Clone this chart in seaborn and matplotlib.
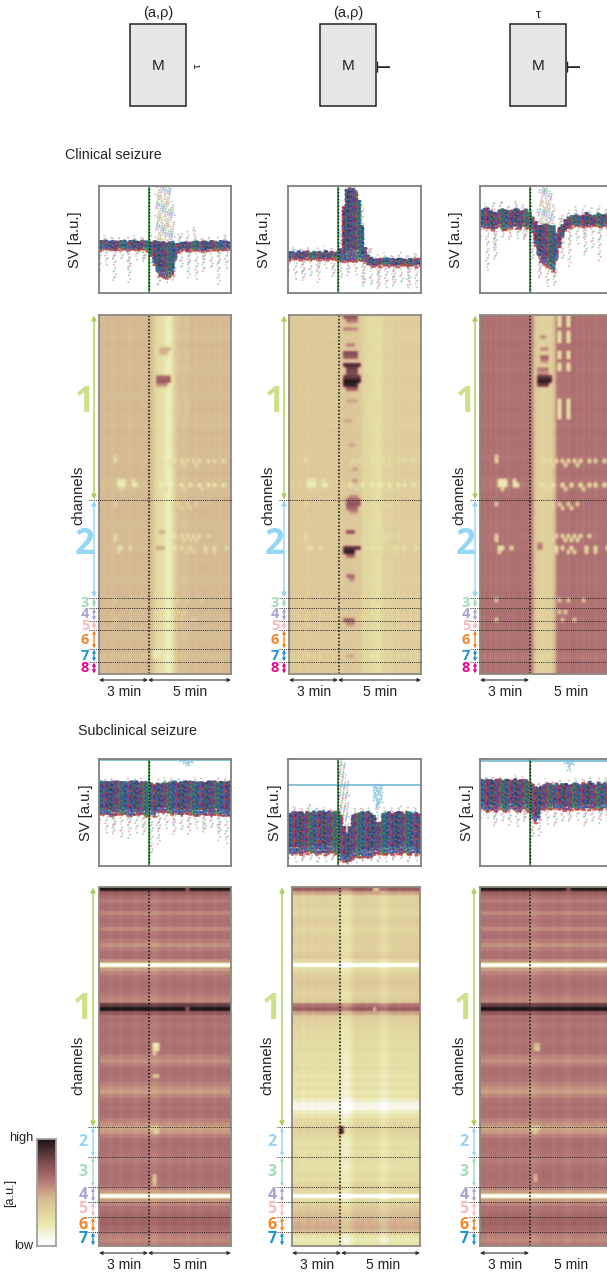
import numpy as np, pandas as pd
import matplotlib
matplotlib.use("Agg")
import matplotlib.pyplot as plt
from matplotlib.colors import LinearSegmentedColormap
from matplotlib.patches import Rectangle
import seaborn as sns

sns.set_theme(style="white")
plt.rcParams['font.family'] = ['Liberation Sans', 'DejaVu Sans']

W, H = 607, 1275
fig = plt.figure(figsize=(W/100, H/100), dpi=100)

# ---------- data ----------
cmap_nodes = [0, .08, .20, .33, .43, .52, .62, .72, .82, .92, 1]
cmap_colors = ['#ffffff', '#f7f7ea', '#e9e8ae', '#dfd09c', '#d6bc94', '#ca9e84', '#b27575',
               '#96595c', '#6e4448', '#3f2a2c', '#1e1414']
signal_colors = ['#2b4a9c', '#22877c', '#7b3a8c', '#c23b30', '#3a8a4c', '#27305a', '#3b62b0', '#8a3a6a']
tail_colors = ['#8fc9a0', '#d6a0c8', '#e8a0a0', '#a0b8dc', '#b8d8a0']

# seizure time profile, 44 time bins over 8 minutes
T1_time = [.44,.43,.44,.44,.42,.44,.44,.43,.44,.44,.42,.44,.44,.44,.43,.44,.44,.44,.33,.28,.26,.24,
           .18,.16,.24,.36,.42,.41,.40,.42,.43,.44,.42,.44,.43,.44,.42,.44,.43,.44,.42,.44,.43,.44]
T2_time = [.37,.36,.37,.35,.37,.36,.35,.37,.36,.37,.35,.37,.36,.37,.36,.37,.37,.37,.37,.38,.38,.37,
           .37,.37,.33,.29,.31,.27,.27,.24,.27,.31,.33,.31,.33,.35,.32,.35,.33,.35,.33,.35,.33,.35]
T3_time = [.64,.62,.64,.62,.64,.61,.64,.62,.64,.61,.64,.62,.64,.63,.62,.64,.62,.58,.36,.34,.32,.32,
           .34,.32,.38,.58,.64,.62,.63,.62,.64,.64,.62,.64,.61,.64,.62,.64,.61,.64,.62,.64,.62,.64]
L1_time = [.01,.00,.01,-.01,.00,.01,.00,-.01,.01,.00,.01,.00,-.01,.00,.01,.00,.00,-.02,-.03,-.02,.00,.01,
           .00,-.01,.00,.01,.00,.00,.01,-.02,.00,.01,.00,-.01,.00,.01,.00,.01,-.01,.00,.01,.00,.01,.00]
L2_time = [.01,.00,.02,-.01,.00,.02,.01,-.01,.02,.00,.01,.02,.00,.01,.00,.01,-.02,-.08,-.10,-.09,-.05,.00,
           .02,.01,.02,.00,.01,.02,.00,.01,-.04,-.06,-.05,.00,.01,.02,.00,.01,.02,.00,.01,.00,.02,.01]
L3_time = [.00,.01,-.01,.01,.00,.01,-.01,.00,.01,.00,-.01,.01,.00,.00,.01,.00,-.01,-.03,-.02,-.01,.00,.01,
           .00,.01,-.01,.00,.01,.00,-.01,-.02,.00,.01,.00,.01,.00,-.01,.01,.00,.01,.00,-.01,.00,.01,.00]

# channel profiles, 90 channel bins
top_channel = [.00,.00,.01,.00,.00,-.01,.00,.01,.00,.00, .01,.00,.00,-.01,.00,.00,.01,.00,.00,.00,
               -.01,.00,.00,.01,.00,.00,.00,-.01,.00,.01, .00,.00,.01,.00,.00,-.01,.00,.00,.00,.01,
               .00,-.01,-.02,-.01,.00,.00,.01,.00,.00,.01, .00,.00,-.01,.00,.00,-.01,.00,.00,-.01,.00,
               .01,.00,.00,.01,.00,.00,-.01,.00,.00,.01, .00,.00,-.01,.00,.01,.00,.00,.01,.00,.00,
               -.01,.00,.00,.01,.00,-.02,-.01,.00,.00,.00]
low_channel = [.98,.70,.64,.60,.64,.63,.57,.62,.64,.62, .57,.63,.64,.60,.55,.60,.63,.64,.55,.00,
               .52,.58,.62,.63,.64,.63,.62,.59,.57,.84, .99,.72,.63,.64,.62,.63,.64,.63,.62,.63,
               .64,.62,.58,.55,.60,.63,.64,.63,.62,.59, .55,.52,.58,.62,.64,.63,.64,.63,.59,.55,
               .50,.53,.59,.63,.64,.64,.63,.62,.60,.62, .63,.64,.64,.64,.63,.59,.52,.00,.52,.58,
               .63,.64,.66,.68,.68,.66,.63,.59,.57,.60]
low2_channel = [.70,.50,.32,.31,.32,.31,.29,.32,.34,.32, .29,.31,.32,.34,.32,.31,.34,.36,.27,.00,
                .26,.31,.34,.36,.36,.34,.32,.32,.36,.62, .70,.50,.34,.32,.31,.29,.27,.29,.27,.26,
                .27,.26,.24,.26,.24,.26,.24,.22,.24,.22, .24,.20,.22,.16,.08,.07,.16,.22,.26,.29,
                .32,.31,.29,.26,.24,.26,.24,.26,.26,.24, .24,.26,.27,.26,.29,.32,.28,.00,.26,.32,
                .36,.40,.42,.44,.46,.48,.40,.22,.18,.22]

# isolated cells: (channel bin, time bins, value)
top_specks = [(35,[5],.30),(36,[5,21,23,25,27,29,31,33,36,38,41],.24),(37,[20,24,28,32],.30),
              (41,[6,7,8,11],.20),(42,[6,7,8,11,12,20,24,27,30,33,36,38,41],.16),(43,[7,22,28,34],.30),
              (47,[5,24,26,29,32],.30),(48,[24,27,30],.30),(55,[5,25,27,29,31,33,36],.26),
              (56,[5,24,28,30,32],.26),(58,[6,7,10,25,27,30,35,38,42],.22),(59,[6,25,29,31,35,38],.30),
              (71,[5,26,29,34],.32),(74,[26,28],.32),(76,[5,27,31],.32)]
streak_rows = [0, 1, 2, 4, 5, 6, 9, 10, 12, 13, 21, 22, 23, 24, 25]
streak_cols = [26, 29]
streak_value = {'T1': .37, 'T2': .27, 'T3': .18}
T1_events = [(8,[20,21,22,23],.48),(9,[20,21,22],.46),(15,[19,20,21,22,23],.66),(16,[19,20,21,22,23],.72),
             (17,[19,20,21,22],.56),(85,[18,19],.16),(84,[18,19,20],.18),(54,[20,21],.50),(58,[19,20,21],.50)]
T2_events = [(0,[18,19,20,21,22],.72),(1,[19,20,21,22],.62),(3,[18,19,20,21,22],.58),(7,[19,20,21],.60),
             (9,[18,19,20,21,22],.78),(10,[18,19,20,21,22],.72),(12,[18,19,20,21,22,23],.92),
             (13,[19,20,21,22],.82),(14,[19,20,21,22],.78),(15,[18,19,20,21,22,23],.84),
             (16,[18,19,20,21,22,23],.98),(17,[18,19,20,21,22],.94),(18,[19,20,21,22],.70),
             (21,[19,20,21,22],.50),(26,[18,19,20],.50),(32,[20,21],.50),(38,[21,22],.52),(41,[21,22],.54),
             (45,[20,21,22],.56),(46,[19,20,21,22,23],.68),(47,[19,20,21,22,23],.74),(48,[19,20,21,22],.68),
             (49,[20,21,22],.56),(54,[19,20,21],.76),(58,[18,19,20,21,22,23],.88),(59,[18,19,20,21],.96),
             (60,[19,20,21],.66),(65,[19,20,21],.66),(66,[20,21],.56),(76,[18,19,20,21],.68),
             (77,[19,20,21],.56),(85,[19,20,21],.50)]
T3_events = [(5,[20,21],.58),(13,[19,20,21,22],.62),(14,[19,20,21,22],.54),(15,[19,20,21,22,23],.86),
             (16,[19,20,21,22,23],.96),(17,[19,20,21,22],.84),(8,[20,21,22],.58),(10,[20,21,22],.68),
             (11,[20,21,22],.58),(57,[19,20],.58),(58,[19,20],.62)]
L1_events = [(39,[18,19],.16),(40,[18,19],.20),(41,[18],.32),(47,[18,19],.40),(60,[17,18,19],.34),
             (61,[18,19],.34),(72,[18],.36),(73,[18],.30),(74,[18],.38),(0,[29],.66),(30,[29],.68)]
L2_events = [(60,[16,17],.86),(61,[16,17],.94),(62,[16],.58),(0,[28,29],.40),(30,[28],.42)]
L3_events = [(39,[18,19],.44),(40,[18,19],.40),(60,[17,18,19],.30),(61,[18],.34),(72,[18],.44),(73,[18],.40),(0,[29],.68)]

# signal value clouds: dense band limits and sparse limits per time bin
T1_hi  = [.48,.48,.48,.47,.48,.48,.47,.48,.48,.47,.48,.48,.48,.47,.48,.48,.48,.47,.48,.47,.47,.47,
          .46,.47,.47,.45,.45,.46,.47,.47,.46,.47,.48,.47,.47,.48,.47,.48,.47,.47,.48,.48,.48,.47]
T1_lo  = [.39,.40,.40,.40,.40,.39,.40,.40,.40,.39,.40,.40,.40,.39,.40,.40,.38,.34,.26,.19,.15,.14,
          .13,.14,.17,.30,.37,.39,.40,.38,.39,.39,.39,.39,.38,.39,.39,.40,.39,.39,.40,.39,.40,.40]
T1_tlo = [.18,.24,.25,.14,.30,.10,.22,.30,.12,.24,.10,.20,.30,.16,.30,.28,.30,.26,.10,.08,.08,.07,
          .09,.06,.10,.16,.10,.22,.12,.14,.28,.20,.12,.10,.18,.30,.12,.22,.16,.08,.28,.10,.22,.30]
T1_thi = [.50,.50,.50,.50,.50,.50,.50,.50,.50,.50,.50,.50,.50,.50,.50,.50,.50,.52,.70,.96,.99,.99,
          .99,.98,.80,.55,.53,.55,.50,.55,.50,.60,.50,.52,.50,.55,.50,.50,.52,.50,.50,.52,.50,.52]

T2_hi  = [.38,.38,.37,.38,.37,.38,.38,.37,.38,.37,.38,.37,.38,.37,.38,.37,.38,.40,.80,.96,.97,.97,
          .94,.86,.62,.42,.34,.32,.31,.31,.31,.31,.32,.31,.31,.31,.31,.31,.31,.30,.31,.31,.31,.31]
T2_lo  = [.30,.31,.31,.31,.30,.31,.31,.30,.31,.31,.30,.31,.31,.30,.31,.31,.30,.29,.29,.29,.29,.29,
          .29,.30,.30,.28,.26,.25,.24,.25,.24,.25,.25,.24,.25,.25,.24,.25,.25,.24,.25,.25,.24,.25]
T2_tlo = [.18,.20,.12,.24,.16,.10,.22,.14,.08,.20,.10,.12,.22,.10,.20,.14,.10,.12,.14,.16,.20,.20,
          .16,.12,.08,.05,.04,.06,.05,.04,.06,.08,.04,.06,.10,.05,.06,.08,.05,.07,.05,.06,.04,.08]
T2_thi = [.40,.40,.40,.42,.40,.40,.42,.40,.40,.40,.42,.40,.40,.42,.40,.40,.42,.60,.96,.99,.99,.99,
          .98,.96,.80,.60,.42,.40,.36,.34,.38,.34,.36,.34,.35,.34,.34,.36,.34,.34,.35,.34,.36,.34]

T3_hi  = [.77,.78,.78,.76,.75,.74,.77,.78,.77,.76,.76,.77,.78,.76,.76,.77,.74,.70,.66,.62,.62,.63,
          .63,.62,.62,.55,.60,.63,.68,.70,.71,.72,.72,.71,.72,.74,.72,.71,.72,.74,.72,.72,.72,.72]
T3_lo  = [.62,.60,.60,.60,.58,.60,.62,.58,.58,.60,.60,.62,.60,.59,.62,.60,.60,.56,.44,.34,.28,.26,
          .24,.22,.20,.30,.42,.52,.58,.60,.61,.62,.62,.62,.61,.62,.62,.62,.62,.62,.61,.62,.62,.62]
T3_tlo = [.50,.48,.20,.50,.40,.30,.52,.50,.48,.52,.50,.48,.50,.52,.48,.50,.48,.30,.24,.14,.16,.14,
          .05,.02,.05,.14,.30,.30,.40,.25,.50,.32,.45,.30,.50,.34,.50,.40,.50,.30,.50,.45,.50,.50]
T3_thi = [.80,.80,.80,.82,.84,.80,.82,.86,.84,.82,.80,.84,.80,.80,.82,.80,.80,.76,.74,.78,.98,.98,
          .98,.92,.80,.70,.68,.72,.74,.76,.74,.78,.74,.76,.78,.80,.76,.74,.78,.80,.74,.76,.75,.76]

L1_hi  = [.78,.78,.78,.78,.78,.78,.78,.78,.78,.77,.78,.78,.78,.77,.78,.78,.77,.76,.75,.76,.76,.77,
          .77,.77,.78,.78,.77,.78,.78,.78,.78,.78,.77,.78,.78,.77,.78,.78,.78,.77,.78,.78,.78,.78]
L1_lo  = [.48,.47,.48,.47,.46,.47,.48,.47,.48,.47,.46,.47,.48,.47,.48,.46,.46,.48,.46,.50,.50,.49,
          .50,.49,.48,.49,.48,.47,.49,.48,.48,.47,.46,.47,.48,.47,.48,.46,.47,.48,.47,.46,.47,.46]
L1_tlo = [.40,.34,.30,.36,.28,.34,.30,.25,.32,.38,.26,.34,.30,.24,.34,.28,.30,.10,.15,.20,.35,.25,
          .34,.30,.38,.28,.34,.32,.26,.36,.30,.28,.34,.24,.34,.30,.20,.34,.28,.32,.24,.34,.20,.30]
L1_thi = [.79,.79,.79,.79,.79,.79,.79,.79,.79,.79,.79,.79,.79,.79,.79,.79,.79,.79,.79,.79,.79,.79,
          .79,.79,.79,.79,.79,.79,.79,.79,.79,.79,.79,.79,.79,.79,.79,.79,.79,.79,.79,.79,.79,.79]
L1_line = [.99,.99,.99,.99,.99,.99,.99,.99,.99,.99,.99,.99,.99,.99,.99,.99,.99,.99,.99,.99,.99,.99,
           .99,.99,.99,.99,.99,.98,.96,.94,.97,.99,.99,.99,.99,.99,.99,.99,.99,.99,.99,.99,.99,.99]

L2_hi  = [.48,.49,.50,.49,.50,.48,.50,.49,.50,.49,.50,.50,.49,.50,.49,.50,.50,.46,.36,.30,.36,.46,
          .48,.49,.50,.49,.50,.48,.46,.40,.40,.48,.49,.50,.48,.49,.50,.49,.48,.50,.49,.48,.49,.48]
L2_lo  = [.12,.10,.11,.12,.10,.12,.11,.12,.12,.10,.11,.12,.10,.11,.12,.11,.11,.05,.04,.03,.04,.06,
          .08,.07,.08,.08,.07,.08,.10,.11,.11,.10,.10,.12,.10,.12,.11,.10,.12,.11,.10,.12,.10,.11]
L2_tlo = [.04,.05,.03,.04,.04,.03,.05,.04,.03,.04,.04,.05,.03,.04,.04,.05,.04,.02,.02,.02,.02,.02,
          .02,.02,.03,.03,.03,.03,.04,.05,.04,.05,.03,.04,.05,.04,.03,.05,.04,.04,.05,.03,.04,.05]
L2_thi = [.52,.53,.52,.54,.53,.52,.54,.53,.52,.53,.52,.53,.52,.53,.52,.53,.55,.99,.96,.80,.55,.50,
          .52,.52,.53,.52,.52,.50,.50,.60,.60,.50,.52,.52,.53,.52,.52,.53,.52,.52,.53,.52,.52,.52]
L2_line = [.755,.755,.755,.755,.755,.755,.755,.755,.755,.755,.755,.755,.755,.755,.755,.755,.755,.755,.755,.755,.755,.755,
           .755,.755,.755,.755,.755,.755,.62,.55,.60,.755,.755,.755,.755,.755,.755,.755,.755,.755,.755,.755,.755,.755]

L3_hi  = [.80,.79,.80,.80,.79,.80,.80,.79,.80,.80,.79,.80,.79,.80,.80,.79,.78,.76,.73,.72,.74,.75,
          .76,.76,.75,.76,.75,.76,.76,.75,.75,.76,.76,.75,.77,.76,.78,.76,.75,.77,.76,.77,.76,.77]
L3_lo  = [.54,.52,.50,.52,.52,.50,.53,.52,.50,.52,.54,.52,.51,.50,.53,.52,.50,.44,.40,.44,.52,.52,
          .53,.52,.54,.53,.52,.53,.51,.52,.52,.53,.52,.53,.52,.54,.52,.53,.52,.53,.52,.54,.53,.52]
L3_tlo = [.42,.40,.44,.38,.42,.36,.44,.40,.42,.38,.44,.40,.36,.42,.40,.44,.34,.25,.18,.28,.40,.42,
          .38,.42,.44,.36,.42,.40,.38,.42,.44,.38,.42,.40,.44,.36,.42,.40,.38,.44,.40,.42,.38,.42]
L3_thi = [.82,.82,.82,.82,.82,.82,.82,.82,.82,.82,.82,.82,.82,.82,.82,.82,.80,.78,.76,.76,.76,.77,
          .78,.78,.77,.78,.77,.78,.78,.77,.78,.78,.78,.77,.79,.78,.80,.78,.77,.79,.78,.79,.78,.79]
L3_line = [.985,.985,.985,.985,.985,.985,.985,.985,.985,.985,.985,.985,.985,.985,.985,.985,.985,.985,.985,.985,.985,.985,
           .985,.985,.985,.985,.985,.985,.96,.90,.95,.985,.985,.985,.985,.985,.985,.985,.985,.985,.985,.985,.985,.985]

top_labels = ['1','2','3','4','5','6','7','8']
top_label_size = [25,25,10.5,10.5,10.5,10.5,10.5,10.5]
low_labels = ['1','2','3','4','5','6','7']
low_label_size = [25,11.5,11.5,11.5,11.5,11.5,11.5]
low_label_y = [1010,1142,1172,1195,1209,1225,1239]
top_label_y = [403,545,603,614.5,626,640,656,668]
group_colors = {'1':'#cfe08a','2':'#93d6f6','3':'#a4dcb6','4':'#aaa2d2','5':'#f9bcbc','6':'#f58426','7':'#1f92d2','8':'#ec008c'}
arrow_colors = {'1':'#a9cd55','2':'#93d6f6','3':'#a4dcb6','4':'#aaa2d2','5':'#f9bcbc','6':'#f58426','7':'#1f92d2','8':'#ec008c'}

# ---------- layout in pixels ----------
def px_axes(x0, y0, x1, y1):
    return fig.add_axes([x0/W, 1-y1/H, (x1-x0)/W, (y1-y0)/H])

cmap = LinearSegmentedColormap.from_list('sv', list(zip(cmap_nodes, cmap_colors)))

def matrix(channel, time, events, specks=()):
    M = np.array(channel)[:, None] + np.array(time)[None, :]
    for r, cols, v in list(specks) + list(events):
        M[r, cols] = v
    return M

KERNEL_WIDE = np.array([1, 2, 3, 2, 1]) / 9
KERNEL_NARROW = np.array([1, 2, 1]) / 4
def soften(M, vertical):
    # the reference is a soft print: fine cells, each row and column lightly smoothed
    up = np.kron(M, np.ones((4, 3)))
    up = np.pad(up, 2, mode='edge')
    up = np.apply_along_axis(lambda v: np.convolve(v, vertical, 'same'), 0, up)
    up = np.apply_along_axis(lambda v: np.convolve(v, KERNEL_WIDE, 'same'), 1, up)
    return up[2:-2, 2:-2]

def heat(box, M, vertical=KERNEL_WIDE):
    ax = px_axes(*box)
    sns.heatmap(soften(M, vertical), ax=ax, cmap=cmap, vmin=0, vmax=1, cbar=False, xticklabels=False, yticklabels=False)
    ax.axvline(16.5 * 3, color='#222222', lw=1.2, ls=(0, (1, 1.1)))
    for s in ax.spines.values():
        s.set_visible(True); s.set_color('#8f8880'); s.set_linewidth(1.3)
    return ax

def cloud(box, hi, lo, tlo, thi, line=None):
    ax = px_axes(*box)
    dx, dy, dc = [], [], []
    tx, ty, tc = [], [], []
    t = 8 / 44
    for i in range(44):
        for sub in range(3):
            x = (i + (sub + .5) / 3) * t
            n = max(2, int((hi[i] - lo[i]) / .011))
            for j, y in enumerate(np.linspace(lo[i], hi[i], n)):
                if j < n * .18 and (i + sub + j) % 2:
                    continue
                k = (i * 5 + sub * 3 + j * j + j * sub) % len(signal_colors)
                dx.append(x + ((j * 7 + i) % 4 - 1.5) * t / 12); dy.append(y + ((i + sub * 3 + j) % 3) * .004)
                dc.append(3 if (j <= 1 and (i + sub) % 2 == 0) else k)
            for seq, (a, b) in enumerate([(tlo[i], lo[i]), (hi[i], thi[i])]):
                keep = 2 if (seq == 1 and b - a > .25) else 5
                for j, y in enumerate(np.arange(a, b, .02)):
                    if (i * 7 + sub * 11 + j * 5 + seq) % keep:
                        continue
                    tx.append(x + ((j * 3 + sub + i) % 5 - 2) * t / 5)
                    ty.append(y + ((i * 13 + sub * 7 + j * 3) % 10) * .004)
                    tc.append((i + sub + j + seq) % len(tail_colors))
    sns.scatterplot(x=tx, y=ty, hue=tc, palette=dict(enumerate(tail_colors)), s=2.2, linewidth=0,
                    alpha=.75, legend=False, ax=ax)
    sns.scatterplot(x=dx, y=dy, hue=dc, palette=dict(enumerate(signal_colors)), s=3, linewidth=0,
                    alpha=.8, legend=False, ax=ax)
    if line is not None:
        top = max(line)
        lx = [(i + .5) * t for i in range(44)]
        sns.lineplot(x=[0] + lx + [8], y=[top] * 46, color='#6fb9d6', lw=1.2, ax=ax, legend=False)
        px_, py_ = [], []
        for i, v in enumerate(line):
            for sub in range(3):
                for j, y in enumerate(np.arange(v, top, .03)):
                    px_.append((i + (sub + .5) / 3 + ((j + sub) % 3 - 1) * .15) * t); py_.append(y + (sub % 2) * .012)
        if px_:
            sns.scatterplot(x=px_, y=py_, color='#7cc0d8', s=2.2, linewidth=0, alpha=.7, legend=False, ax=ax)
    ax.axvline(3, color='#2e9a3c', lw=1.3)
    ax.axvline(3, color='#111111', lw=1.0, ls=(0, (1, 1.4)))
    ax.set_xlim(0, 8); ax.set_ylim(0, 1)
    ax.set_xticks([]); ax.set_yticks([]); ax.set_xlabel(''); ax.set_ylabel('')
    for s in ax.spines.values():
        s.set_visible(True); s.set_color('#7f7f7f'); s.set_linewidth(1.3)
    return ax

TOP_HEAT = (315, 674); LOW_HEAT = (887, 1246)
TOP_SV = (186, 293); LOW_SV = (759, 866)
TOP_X = [(99, 231), (289, 421), (480, 612)]
LOW_X = [(99, 231), (292, 420), (480, 612)]
SV_X = [(99, 231), (288, 421), (480, 612)]

cloud((SV_X[0][0], TOP_SV[0], SV_X[0][1], TOP_SV[1]), T1_hi, T1_lo, T1_tlo, T1_thi)
cloud((SV_X[1][0], TOP_SV[0], SV_X[1][1], TOP_SV[1]), T2_hi, T2_lo, T2_tlo, T2_thi)
cloud((SV_X[2][0], TOP_SV[0], SV_X[2][1], TOP_SV[1]), T3_hi, T3_lo, T3_tlo, T3_thi)
cloud((SV_X[0][0], LOW_SV[0], SV_X[0][1], LOW_SV[1]), L1_hi, L1_lo, L1_tlo, L1_thi, L1_line)
cloud((SV_X[1][0], LOW_SV[0], SV_X[1][1], LOW_SV[1]), L2_hi, L2_lo, L2_tlo, L2_thi, L2_line)
cloud((SV_X[2][0], LOW_SV[0], SV_X[2][1], LOW_SV[1]), L3_hi, L3_lo, L3_tlo, L3_thi, L3_line)

def streaks(name):
    return [(r, streak_cols, streak_value[name]) for r in streak_rows]

heat((TOP_X[0][0], TOP_HEAT[0], TOP_X[0][1], TOP_HEAT[1]), matrix(top_channel, T1_time, T1_events, top_specks + streaks('T1')))
heat((TOP_X[1][0], TOP_HEAT[0], TOP_X[1][1], TOP_HEAT[1]), matrix(top_channel, T2_time, T2_events, top_specks + streaks('T2')))
heat((TOP_X[2][0], TOP_HEAT[0], TOP_X[2][1], TOP_HEAT[1]), matrix(top_channel, T3_time, T3_events, top_specks + streaks('T3')))
heat((LOW_X[0][0], LOW_HEAT[0], LOW_X[0][1], LOW_HEAT[1]), matrix(low_channel, L1_time, L1_events), KERNEL_NARROW)
heat((LOW_X[1][0], LOW_HEAT[0], LOW_X[1][1], LOW_HEAT[1]), matrix(low2_channel, L2_time, L2_events), KERNEL_NARROW)
heat((LOW_X[2][0], LOW_HEAT[0], LOW_X[2][1], LOW_HEAT[1]), matrix(low_channel, L3_time, L3_events), KERNEL_NARROW)

# colour bar
cb = px_axes(37, 1139, 56, 1246)
sns.heatmap(np.linspace(1, 0, 108)[:, None], ax=cb, cmap=cmap, vmin=0, vmax=1, cbar=False,
            xticklabels=False, yticklabels=False)
for s in cb.spines.values():
    s.set_visible(True); s.set_color('#a0a0a0'); s.set_linewidth(1.3)

# overlay in pixel coordinates
ov = fig.add_axes([0, 0, 1, 1], facecolor='none')
ov.set_xlim(0, W); ov.set_ylim(H, 0); ov.axis('off')
TXT = '#222222'

def arrow(x0, y0, x1, y1, color, lw=1.0, ms=6):
    ov.annotate('', xy=(x1, y1), xytext=(x0, y0),
                arrowprops=dict(arrowstyle='<|-|>', color=color, lw=lw, mutation_scale=ms,
                                shrinkA=0, shrinkB=0))

# model boxes
for bx, t_top, t_top_size, t_y in [(130, '(a,\u03c1)', 10.5, 13), (320, '(a,\u03c1)', 10.5, 13), (510, '\u03c4', 9, 15)]:
    ov.add_patch(Rectangle((bx, 24), 56, 82, fc='#e6e6e6', ec='#222222', lw=1.1))
    ov.text(bx + 28, 65.5, 'M', ha='center', va='center', fontsize=11, color=TXT)
    ov.text(bx + 28, t_y, t_top, ha='center', va='center', fontsize=t_top_size, color=TXT)
ov.text(198, 65.5, '\u03c4', rotation=90, ha='center', va='center', fontsize=8, color=TXT)
for x in (386, 576):
    ov.text(x, 66, 'T', rotation=90, ha='center', va='center', fontsize=14, color=TXT)

ov.text(65, 155, 'Clinical seizure', ha='left', va='center', fontsize=10.3, color=TXT)
ov.text(78, 731, 'Subclinical seizure', ha='left', va='center', fontsize=10.3, color=TXT)

top_bounds = [315, 500, 598, 608, 621, 630, 649, 662, 674]
low_bounds = [887, 1127, 1157, 1187, 1202, 1217, 1232, 1246]

for k in range(3):
    x0, x1 = TOP_X[k]
    ax_arrow = x0 - 5
    ov.text(SV_X[k][0] - 24, 240, 'SV [a.u.]', rotation=90, ha='center', va='center', fontsize=10.6, color=TXT)
    ov.text(x0 - 21, 495, 'channels', rotation=90, ha='center', va='center', fontsize=10.6, color=TXT)
    for i, lab in enumerate(top_labels):
        a, b = top_bounds[i], top_bounds[i + 1]
        arrow(ax_arrow, a + .5, ax_arrow, b - .5, arrow_colors[lab], ms=4 if i > 1 else 7)
        ov.text(x0 - 14, top_label_y[i], lab, ha='center', va='center',
                fontsize=top_label_size[i], fontweight='bold', color=group_colors[lab], family=['Open Sans', 'DejaVu Sans'])
        if i > 0:
            ov.plot([x0 - 10, x1], [a, a], color='#222222', lw=.7, ls=(0, (1, 1.2)))
    arrow(x0, 680, x0 + 49, 680, '#333333', lw=.8, ms=5)
    arrow(x0 + 49, 680, x1, 680, '#333333', lw=.8, ms=5)
    ov.text(x0 + 25, 692, '3 min', ha='center', va='center', fontsize=10, color=TXT)
    ov.text(x0 + 91, 692, '5 min', ha='center', va='center', fontsize=10, color=TXT)

    x0, x1 = LOW_X[k]
    sx = SV_X[k][0]
    ax_arrow = sx - 6
    ov.text(sx - 13, 813, 'SV [a.u.]', rotation=90, ha='center', va='center', fontsize=10.6, color=TXT)
    ov.text(sx - 21, 1065, 'channels', rotation=90, ha='center', va='center', fontsize=10.6, color=TXT)
    for i, lab in enumerate(low_labels):
        a, b = low_bounds[i], low_bounds[i + 1]
        arrow(ax_arrow, a + .5, ax_arrow, b - .5, arrow_colors[lab], ms=4 if i > 0 else 7)
        ov.text(sx - 16, low_label_y[i], lab, ha='center', va='center',
                fontsize=low_label_size[i], fontweight='bold', color=group_colors[lab], family=['Open Sans', 'DejaVu Sans'])
        if i > 0:
            ov.plot([sx - 11, x1], [a, a], color='#222222', lw=.7, ls=(0, (1, 1.2)))
    arrow(x0, 1253, x0 + 49, 1253, '#333333', lw=.8, ms=5)
    arrow(x0 + 49, 1253, x1, 1253, '#333333', lw=.8, ms=5)
    ov.text(x0 + 25, 1265, '3 min', ha='center', va='center', fontsize=10, color=TXT)
    ov.text(x0 + 91, 1265, '5 min', ha='center', va='center', fontsize=10, color=TXT)

ov.text(33, 1138, 'high', ha='right', va='center', fontsize=9.2, color=TXT)
ov.text(33, 1246, 'low', ha='right', va='center', fontsize=9.2, color=TXT)
ov.text(10, 1193, '[a.u.]', rotation=90, ha='center', va='center', fontsize=9.2, color=TXT)

fig.savefig('out.png', dpi=100)
